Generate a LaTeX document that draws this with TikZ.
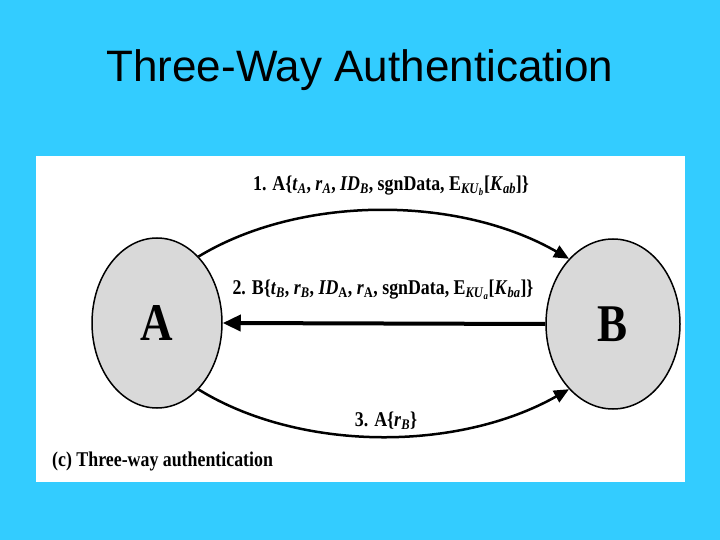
\documentclass[tikz,border=0pt]{standalone}
\usepackage{fontspec}
\usepackage{graphicx}
\setmainfont{Liberation Serif}
\newfontfamily\titlefont{Liberation Sans}
\usetikzlibrary{shapes.geometric,arrows.meta}
\newcommand{\sbs}[1]{\textsubscript{#1}}
\newcommand{\narrow}[1]{\scalebox{0.85}[1]{#1}}
\definecolor{slidebg}{RGB}{51,204,255}
\definecolor{nodegray}{RGB}{217,217,217}
\begin{document}
\begin{tikzpicture}[x=1pt,y=-1pt,
  party/.style={ellipse,draw=black,line width=1.5pt,fill=nodegray,minimum width=130pt,minimum height=170pt,inner sep=0pt,font=\bfseries\fontsize{53}{53}\selectfont},
  msg/.style={font=\bfseries\fontsize{21}{21}\selectfont,inner sep=0pt},
  curvearrow/.style={line width=2.5pt,-{Triangle[length=15pt,width=13pt]}},
  straightarrow/.style={line width=4pt,-{Triangle[length=18pt,width=16pt]}}]
\useasboundingbox (0,0) rectangle (720,540);
\fill[slidebg] (0,0) rectangle (720,540);
\node[font=\titlefont\fontsize{44}{44}\selectfont,inner sep=0pt] (title) at (360,70) {Three-Way Authentication};
\fill[white] (36,156) rectangle (685,482);
\node[party] (A) at (157,323) {\narrow{A}};
\node[party,minimum width=134pt] (B) at (613,324) {\narrow{B}};
\draw[curvearrow] (A.58) .. controls (300,195) and (458,195) .. (B.124);
\draw[straightarrow] (B.west) -- (A.east);
\draw[curvearrow] (A.-58) .. controls (300,452) and (458,452) .. (B.-124);
\node[msg] (m1) at (391,186) {\narrow{1. A\{\textit{t}\sbs{\textit{A}}, \textit{r}\sbs{\textit{A}}, \textit{ID}\sbs{\textit{B}}, sgnData, E\sbs{\textit{KU}\sbs{\textit{b}}}[\textit{K}\sbs{\textit{ab}}]\}}};
\node[msg] (m2) at (383,290) {\narrow{2. B\{\textit{t}\sbs{\textit{B}}, \textit{r}\sbs{\textit{B}}, \textit{ID}\sbs{A}, \textit{r}\sbs{A}, sgnData, E\sbs{\textit{KU}\sbs{\textit{a}}}[\textit{K}\sbs{\textit{ba}}]\}}};
\node[msg] (m3) at (386,421) {\narrow{3. A\{\textit{r}\sbs{\textit{B}}\}}};
\node[msg,anchor=west] (cap) at (52,461) {\narrow{(c) Three-way authentication}};
\end{tikzpicture}
\end{document}
